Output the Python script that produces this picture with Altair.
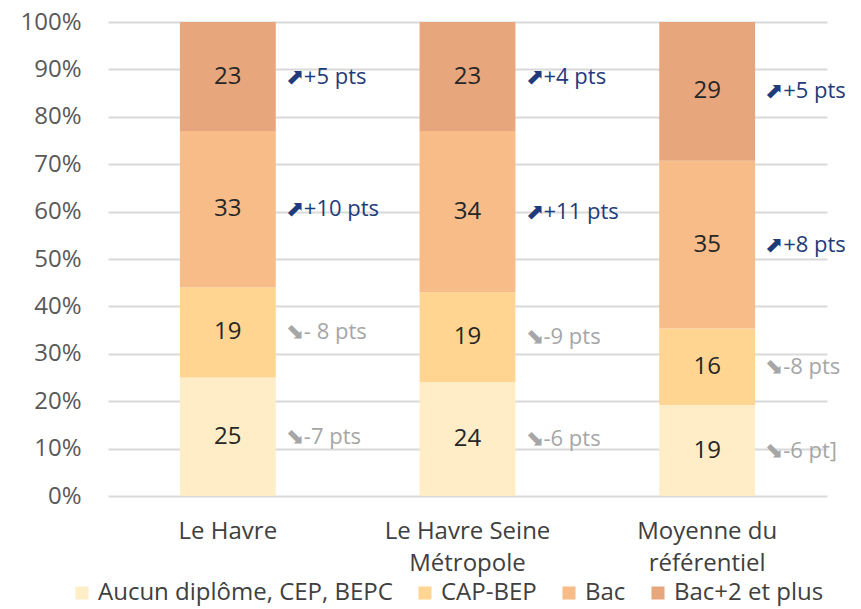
import altair as alt
import pandas as pd

territories = ["Le Havre", "Le Havre Seine Métropole", "Moyenne du référentiel"]
levels = ["Aucun diplôme, CEP, BEPC", "CAP-BEP", "Bac", "Bac+2 et plus"]
colors = ["#FFEDC8", "#FFD591", "#F8BC88", "#E8A67C"]

# values per territory, bottom to top
values = {
    "Le Havre": [25, 19, 33, 23],
    "Le Havre Seine Métropole": [24, 19, 34, 23],
    "Moyenne du référentiel": [19, 16, 35, 29],
}
# evolution labels per segment
changes = {
    "Le Havre": ["⬊-7 pts", "⬊- 8 pts", "⬈+10 pts", "⬈+5 pts"],
    "Le Havre Seine Métropole": ["⬊-6 pts", "⬊-9 pts", "⬈+11 pts", "⬈+4 pts"],
    "Moyenne du référentiel": ["⬊-6 pt]", "⬊-8 pts", "⬈+8 pts", "⬈+5 pts"],
}
signs = ["neg", "neg", "pos", "pos"]

rows = []
for t in territories:
    for i, lv in enumerate(levels):
        rows.append({"territoire": t, "niveau": lv, "ordre": i,
                     "valeur": values[t][i], "evol": changes[t][i], "signe": signs[i]})
df = pd.DataFrame(rows)

FONT = "Open Sans"

base = alt.Chart(df).transform_stack(
    stack="valeur", as_=["y0", "y1"], groupby=["territoire"],
    sort=[alt.SortField("ordre", order="ascending")], offset="normalize"
).transform_calculate(mid="(datum.y0 + datum.y1) / 2")

xenc = alt.X("territoire:N", sort=territories, title=None,
             scale=alt.Scale(paddingInner=0.6, paddingOuter=0.3),
             axis=alt.Axis(labelExpr="datum.label == 'Le Havre Seine Métropole' ? ['Le Havre Seine', 'Métropole'] : datum.label == 'Moyenne du référentiel' ? ['Moyenne du', 'référentiel'] : datum.label",
                           labelFontSize=24, labelColor="#404040", labelFont=FONT,
                           labelPadding=23, labelLineHeight=32, ticks=False,
                           domain=False, labelAngle=0))

bars = base.mark_bar().encode(
    x=xenc,
    y=alt.Y("y0:Q", title=None,
            scale=alt.Scale(domain=[0, 1]),
            axis=alt.Axis(format="%", values=[i / 10 for i in range(11)],
                          labelFontSize=24, labelColor="#595959", labelFont=FONT,
                          labelPadding=27, ticks=False, domain=False, labelOverlap=False,
                          gridColor="#D9D9D9", gridWidth=2)),
    y2="y1:Q",
    color=alt.Color("niveau:N", sort=levels,
                    scale=alt.Scale(domain=levels, range=colors),
                    legend=alt.Legend(title=None, orient="none", direction="horizontal",
                                      legendX=-38, legendY=559,
                                      symbolType="square", symbolSize=170,
                                      symbolStrokeWidth=0,
                                      labelFontSize=24, labelColor="#404040",
                                      labelFont=FONT, columnPadding=20,
                                      labelLimit=400)),
)

labels = base.mark_text(fontSize=24, color="#262626", font=FONT, baseline="middle").encode(
    x=alt.X("territoire:N", sort=territories),
    y=alt.Y("mid:Q"),
    text=alt.Text("valeur:Q"),
)

annots = base.mark_text(fontSize=22, font=FONT, align="left", baseline="middle", dx=58).encode(
    x=alt.X("territoire:N", sort=territories),
    y=alt.Y("mid:Q"),
    text=alt.Text("evol:N"),
    color=alt.Color("signe:N", scale=alt.Scale(domain=["pos", "neg"], range=["#1F3B7A", "#A6A6A6"]),
                    legend=None),
)

chart = alt.layer(bars, labels, annots).resolve_scale(color="independent").properties(
    width=719, height=474,
    autosize=alt.AutoSizeParams(type="none"),
    padding={"left": 100, "top": 14, "right": 18, "bottom": 112},
).configure_view(stroke=None).configure_axis(gridOpacity=1)

chart.save("out.html", embed_options={"renderer": "svg", "actions": False})
